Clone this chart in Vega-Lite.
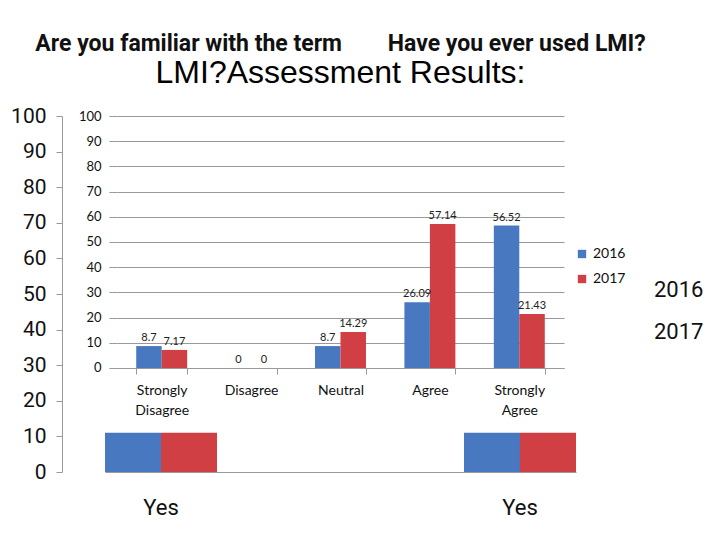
{
  "$schema": "https://vega.github.io/schema/vega-lite/v6.json",
  "width": 447,
  "height": 356,
  "autosize": {"type": "none"},
  "padding": {"left": 117, "top": 116, "right": 156, "bottom": 68},
  "background": "white",
  "title": {
    "text": "Are you familiar with the term\u00a0\u00a0\u00a0\u00a0\u00a0\u00a0\u00a0\u00a0Have you ever used LMI?",
    "subtitle": "LMI?Assessment Results:",
    "anchor": "middle",
    "frame": "group",
    "font": "Roboto",
    "fontSize": 23,
    "fontWeight": "bold",
    "color": "#111",
    "subtitleFont": "Liberation Sans",
    "subtitleFontSize": 32,
    "subtitleColor": "#000",
    "subtitlePadding": 2,
    "offset": 16
  },
  "datasets": {
    "main": [
      {"response": "Strongly Disagree", "year": "2016", "value": 8.7},
      {"response": "Strongly Disagree", "year": "2017", "value": 7.17},
      {"response": "Disagree", "year": "2016", "value": 0},
      {"response": "Disagree", "year": "2017", "value": 0},
      {"response": "Neutral", "year": "2016", "value": 8.7},
      {"response": "Neutral", "year": "2017", "value": 14.29},
      {"response": "Agree", "year": "2016", "value": 26.09},
      {"response": "Agree", "year": "2017", "value": 57.14},
      {"response": "Strongly Agree", "year": "2016", "value": 56.52},
      {"response": "Strongly Agree", "year": "2017", "value": 21.43}
    ],
    "bg": [
      {"question": "Are you familiar with the term LMI?", "year": "2016", "value": 11},
      {"question": "Are you familiar with the term LMI?", "year": "2017", "value": 11},
      {"question": "Have you ever used LMI?", "year": "2016", "value": 11},
      {"question": "Have you ever used LMI?", "year": "2017", "value": 11}
    ]
  },
  "layer": [
    {
      "data": {"name": "bg"},
      "mark": {"type": "bar"},
      "encoding": {
        "x": {
          "field": "question", "type": "nominal",
          "scale": {"range": [-12, 459], "paddingInner": 0.688, "paddingOuter": 0},
          "axis": {"orient": "bottom", "title": null, "labelExpr": "'Yes'", "labelFont": "Roboto", "labelFontSize": 22, "labelColor": "#111", "labelPadding": 25, "ticks": false, "domainColor": "#999", "labelAngle": 0}
        },
        "xOffset": {"field": "year", "type": "nominal"},
        "y": {
          "field": "value", "type": "quantitative",
          "scale": {"domain": [0, 100], "nice": false},
          "axis": {"orient": "left", "offset": 55, "title": null, "values": [0, 10, 20, 30, 40, 50, 60, 70, 80, 90, 100], "grid": false, "labelFont": "Roboto", "labelFontSize": 21, "labelColor": "#111", "tickSize": 6, "tickColor": "#999", "domainColor": "#999", "labelPadding": 10}
        },
        "color": {
          "field": "year", "type": "nominal",
          "scale": {"domain": ["2016", "2017"], "range": ["#4878bf", "#cf3f44"]},
          "legend": {"orient": "none", "legendX": 515, "legendY": 163, "title": null, "symbolSize": 0, "symbolOpacity": 0, "labelFont": "Roboto", "labelFontSize": 22, "labelColor": "#111", "rowPadding": 20, "labelOffset": 0, "padding": 0}
        }
      }
    },
    {
      "data": {"name": "main"},
      "encoding": {
        "x": {
          "field": "response", "type": "nominal",
          "sort": ["Strongly Disagree", "Disagree", "Neutral", "Agree", "Strongly Agree"],
          "scale": {"paddingInner": 0.43, "paddingOuter": 0.215},
          "axis": {"orient": "bottom", "offset": -104, "title": null, "labelExpr": "split(datum.label, ' ')", "labelFont": "Lato", "labelFontSize": 14, "labelColor": "#111", "labelLineHeight": 20, "labelAngle": 0, "labelPadding": 9, "tickBand": "extent", "tickSize": 6, "tickColor": "#999", "domainColor": "#999"}
        },
        "xOffset": {"field": "year", "type": "nominal", "sort": ["2016", "2017"]},
        "y": {
          "field": "value", "type": "quantitative",
          "scale": {"domain": [-41.27, 100], "nice": false, "zero": false},
          "axis": {"orient": "left", "title": null, "values": [0, 10, 20, 30, 40, 50, 60, 70, 80, 90, 100], "grid": true, "gridColor": "#999", "domain": false, "tickSize": 8, "tickColor": "#999", "labelFont": "Lato", "labelFontSize": 13, "labelColor": "#111", "labelPadding": 8}
        }
      },
      "layer": [
        {
          "mark": {"type": "bar"},
          "encoding": {
            "color": {
              "field": "year", "type": "nominal",
              "scale": {"domain": ["2016", "2017"], "range": ["#4878bf", "#cf3f44"]},
              "legend": {"orient": "none", "legendX": 458, "legendY": 131, "title": null, "symbolType": "square", "symbolSize": 70, "symbolStrokeWidth": 0, "labelFont": "Lato", "labelFontSize": 14, "labelColor": "#111", "rowPadding": 11}
            }
          }
        },
        {
          "mark": {"type": "text", "dy": -8, "font": "Lato", "fontSize": 11, "color": "#222"},
          "encoding": {"text": {"field": "value", "type": "quantitative"}}
        }
      ]
    }
  ],
  "resolve": {
    "scale": {"x": "independent", "y": "independent", "xOffset": "independent", "color": "independent"},
    "axis": {"x": "independent", "y": "independent"},
    "legend": {"color": "independent"}
  },
  "config": {"view": {"stroke": null}}
}
